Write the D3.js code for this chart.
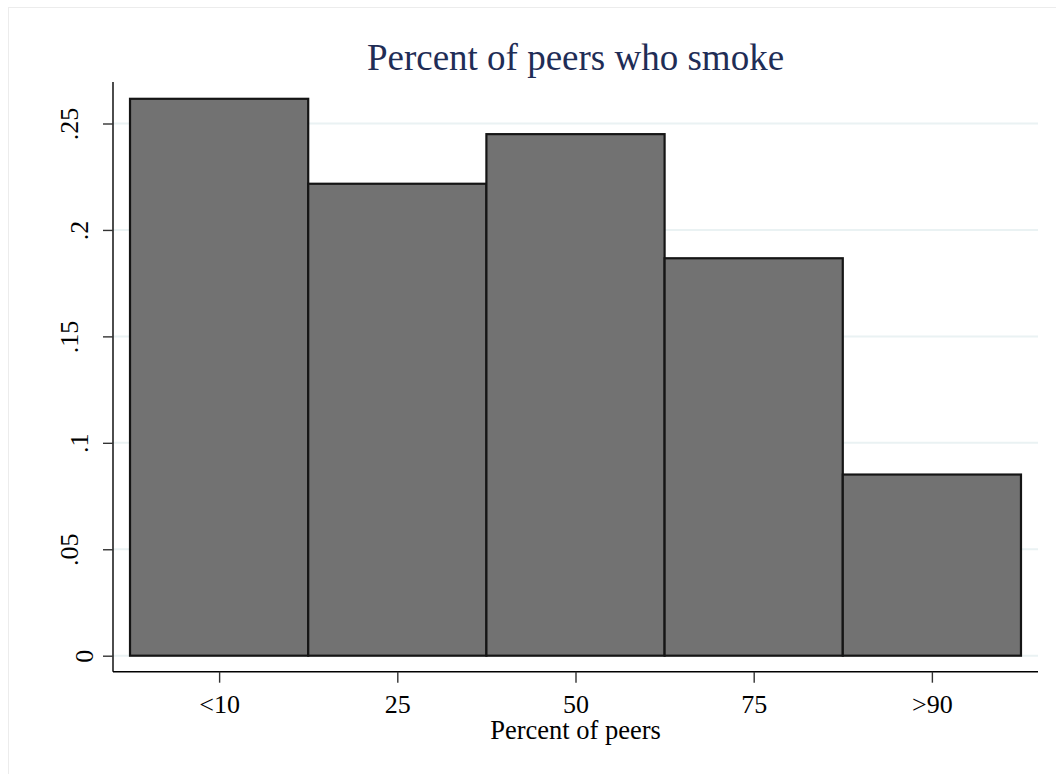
<!DOCTYPE html>
<html>
<head>
<meta charset="utf-8">
<script src="https://cdn.jsdelivr.net/npm/d3@7"></script>
<style>
  html, body { margin: 0; padding: 0; background: #ffffff; }
  svg { display: block; }
  text { font-family: "Liberation Serif", "Times New Roman", serif; }
</style>
</head>
<body>
<script>
// ---- data ----
const categories = ["<10", "25", "50", "75", ">90"];
const binCenters = [1, 2, 3, 4, 5];
const density = [0.2616, 0.2217, 0.2450, 0.1867, 0.0851];
const yTicks = [0, 0.05, 0.1, 0.15, 0.2, 0.25];
const yTickLabels = ["0", ".05", ".1", ".15", ".2", ".25"];
const title = "Percent of peers who smoke";
const xTitle = "Percent of peers";

// ---- layout ----
const W = 1056, H = 774;
const plot = { left: 113, right: 1038, top: 82, bottom: 671.7 };
const pad = 0.0955;

const svg = d3.select("body").append("svg").attr("width", W).attr("height", H);

// outer frame (graph region)
svg.append("rect").attr("x", 8.5).attr("y", 7.5).attr("width", W).attr("height", H)
  .attr("fill", "#ffffff").attr("stroke", "#ececec").attr("stroke-width", 1);

const x = d3.scaleLinear().domain([0.5 - pad, 5.5 + pad]).range([plot.left, plot.right]);
const y = d3.scaleLinear().domain([0, 0.25]).range([655.7, 123.5]);

// gridlines
svg.append("g").selectAll("line").data(yTicks).join("line")
  .attr("x1", plot.left).attr("x2", plot.right)
  .attr("y1", d => y(d)).attr("y2", d => y(d))
  .attr("stroke", "#eaf2f3").attr("stroke-width", 2);

// bars
svg.append("g").selectAll("rect").data(density).join("rect")
  .attr("x", (d, i) => x(binCenters[i] - 0.5))
  .attr("width", (d, i) => x(binCenters[i] + 0.5) - x(binCenters[i] - 0.5))
  .attr("y", d => y(d))
  .attr("height", d => y(0) - y(d))
  .attr("fill", "#727272").attr("stroke", "#151515").attr("stroke-width", 2.2);

// y axis
const yAxis = d3.axisLeft(y).tickValues(yTicks)
  .tickFormat((d, i) => yTickLabels[i]).tickSize(10).tickPadding(0);
const gy = svg.append("g").attr("transform", `translate(${plot.left},0)`).call(yAxis);
gy.select(".domain").attr("d", `M0,${plot.top}V${plot.bottom}`).attr("stroke", "#000").attr("stroke-width", 1.4);
gy.selectAll(".tick line").attr("stroke", "#333").attr("stroke-width", 1.4);
gy.selectAll(".tick text")
  .attr("x", null).attr("dy", null)
  .attr("text-anchor", "middle")
  .attr("fill", "#000")
  .style("font-size", "26px")
  .style("font-family", "'Liberation Serif', serif")
  .each(function () {
    // wider labels sit further from the axis, as in the reference
    const w = this.getComputedTextLength();
    const cx = -20 - 0.77 * w + 0.77 * 13;
    d3.select(this).attr("transform", `translate(${cx},0) rotate(-90)`);
  });

// x axis
const xAxis = d3.axisBottom(x).tickValues(binCenters)
  .tickFormat((d, i) => categories[i]).tickSize(11).tickPadding(0);
const gx = svg.append("g").attr("transform", `translate(0,${plot.bottom})`).call(xAxis);
gx.select(".domain").attr("d", `M${plot.left},0H${plot.right}`).attr("stroke", "#000").attr("stroke-width", 1.4);
gx.selectAll(".tick line").attr("stroke", "#333").attr("stroke-width", 1.4);
gx.selectAll(".tick text")
  .attr("y", 41).attr("dy", null)
  .attr("fill", "#000")
  .style("font-size", "26px")
  .style("font-family", "'Liberation Serif', serif");

// axis title
svg.append("text").attr("x", (x(0.5) + x(5.5)) / 2).attr("y", 738.5)
  .attr("text-anchor", "middle").style("font-size", "26.5px").attr("fill", "#000")
  .text(xTitle);

// chart title
svg.append("text").attr("x", (x(0.5) + x(5.5)) / 2).attr("y", 70)
  .attr("text-anchor", "middle").style("font-size", "37px").attr("fill", "#1f2d56")
  .text(title);
</script>
</body>
</html>
